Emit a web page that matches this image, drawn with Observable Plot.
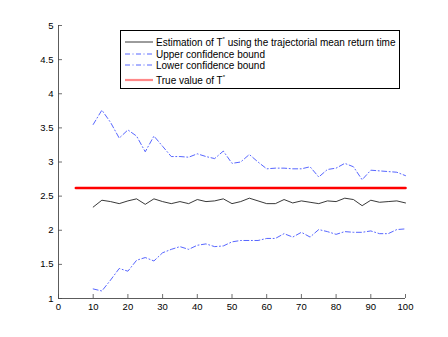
<!DOCTYPE html>
<html>
<head>
<meta charset="utf-8">
<script src="https://cdn.jsdelivr.net/npm/d3@7"></script>
<script src="https://cdn.jsdelivr.net/npm/@observablehq/plot@0.6"></script>
<style>
  html, body { margin: 0; padding: 0; background: #fff; }
  #wrap { position: relative; width: 448px; height: 337px; font-family: "Liberation Sans", Arial, sans-serif; }
  #legend { position: absolute; left: 120px; top: 30px; width: 280px; height: 59px; border: 1px solid #000; background: #fff; box-sizing: border-box; font-size: 10px; color: #000; }
  .row { position: absolute; left: 4px; display: flex; align-items: center; white-space: nowrap; }
  .row svg { margin-right: 3px; }
  sup { font-size: 6px; vertical-align: 5px; line-height: 0; }
</style>
</head>
<body>
<div id="wrap"></div>
<script>
const xs = [10,12.5,15,17.5,20,22.5,25,27.5,30,32.5,35,37.5,40,42.5,45,47.5,50,52.5,55,57.5,60,62.5,65,67.5,70,72.5,75,77.5,80,82.5,85,87.5,90,92.5,95,97.5,100];
const estimate = [2.34,2.44,2.42,2.39,2.43,2.46,2.38,2.46,2.42,2.39,2.42,2.39,2.45,2.42,2.43,2.46,2.39,2.42,2.47,2.43,2.39,2.39,2.45,2.40,2.43,2.41,2.39,2.43,2.42,2.47,2.45,2.36,2.44,2.41,2.42,2.43,2.40];
const upper = [3.55,3.76,3.58,3.35,3.47,3.38,3.15,3.38,3.23,3.08,3.08,3.07,3.12,3.08,3.05,3.16,2.98,3.0,3.11,3.0,2.90,2.91,2.91,2.90,2.90,2.93,2.78,2.89,2.91,2.98,2.93,2.74,2.88,2.87,2.86,2.85,2.80];
const lower = [1.14,1.11,1.27,1.44,1.40,1.56,1.60,1.55,1.67,1.72,1.76,1.72,1.78,1.80,1.76,1.77,1.83,1.85,1.85,1.85,1.88,1.88,1.95,1.90,1.97,1.90,2.01,1.98,1.94,1.98,1.97,1.97,1.99,1.95,1.95,2.01,2.02];
const trueX = [5, 100];
const trueValue = 2.62;
const xTicks = [0,10,20,30,40,50,60,70,80,90,100];
const xTickLabels = ["0","10","20","30","40","50","60","70","80","90","100"];
const yTicks = [1,1.5,2,2.5,3,3.5,4,4.5,5];
const yTickLabels = ["1","1.5","2","2.5","3","3.5","4","4.5","5"];
const legendLabels = ["Estimation of T<sup>*</sup> using the trajectorial mean return time", "Upper confidence bound", "Lower confidence bound", "True value of T<sup>*</sup>"];

const est = xs.map((x, i) => ({x, y: estimate[i]}));
const up = xs.map((x, i) => ({x, y: upper[i]}));
const lo = xs.map((x, i) => ({x, y: lower[i]}));
const tv = trueX.map(x => ({x, y: trueValue}));

const H = 337, mT = 25, mB = 39;
const inner = H - mT - mB;
const axisColor = "#4a4a4a";
const blue = "#4455ff";
const dash = "5,2.5,1,2.5";

const chart = Plot.plot({
  width: 448, height: H,
  marginLeft: 58, marginRight: 43, marginTop: mT, marginBottom: mB,
  style: {fontFamily: "Liberation Sans, Arial, sans-serif", fontSize: "9.5px", background: "#fff", color: "#000"},
  x: {domain: [0, 100], ticks: xTicks, tickFormat: (d) => xTickLabels[xTicks.indexOf(d)], tickSize: 0, tickPadding: 5, label: null},
  y: {domain: [1, 5], ticks: yTicks, tickFormat: (d) => yTickLabels[yTicks.indexOf(d)], tickSize: 0, tickPadding: 5, label: null},
  marks: [
    Plot.ruleX(xTicks, {x: d => d, insetTop: inner - 4, stroke: axisColor, strokeWidth: 0.8}),
    Plot.ruleY(yTicks, {y: d => d, insetRight: 347 - 4, stroke: axisColor, strokeWidth: 0.8}),
    Plot.line(up, {x: "x", y: "y", stroke: blue, strokeWidth: 0.9, strokeDasharray: dash}),
    Plot.line(lo, {x: "x", y: "y", stroke: blue, strokeWidth: 0.9, strokeDasharray: dash}),
    Plot.line(tv, {x: "x", y: "y", stroke: "#ff0000", strokeWidth: 2.6}),
    Plot.line(est, {x: "x", y: "y", stroke: "#222", strokeWidth: 0.9}),
    Plot.ruleY([1], {stroke: axisColor, strokeWidth: 0.9}),
    Plot.ruleX([0], {stroke: axisColor, strokeWidth: 0.9})
  ]
});

const wrap = document.getElementById("wrap");
wrap.appendChild(chart);

const legend = document.createElement("div");
legend.id = "legend";
const styles = [
  {stroke: "#222", w: 0.9, dash: null},
  {stroke: blue, w: 0.9, dash: dash},
  {stroke: blue, w: 0.9, dash: dash},
  {stroke: "#ff8888", w: 2.2, dash: null}
];
const tops = [11, 23, 34, 49];
legendLabels.forEach((lab, i) => {
  const row = document.createElement("div");
  row.className = "row";
  row.style.top = (tops[i] - 6) + "px";
  const s = styles[i];
  row.innerHTML = `<svg width="28" height="12"><line x1="0" x2="28" y1="6" y2="6" stroke="${s.stroke}" stroke-width="${s.w}" ${s.dash ? `stroke-dasharray="${s.dash}"` : ""}/></svg><span>${lab}</span>`;
  legend.appendChild(row);
});
wrap.appendChild(legend);
</script>
</body>
</html>
